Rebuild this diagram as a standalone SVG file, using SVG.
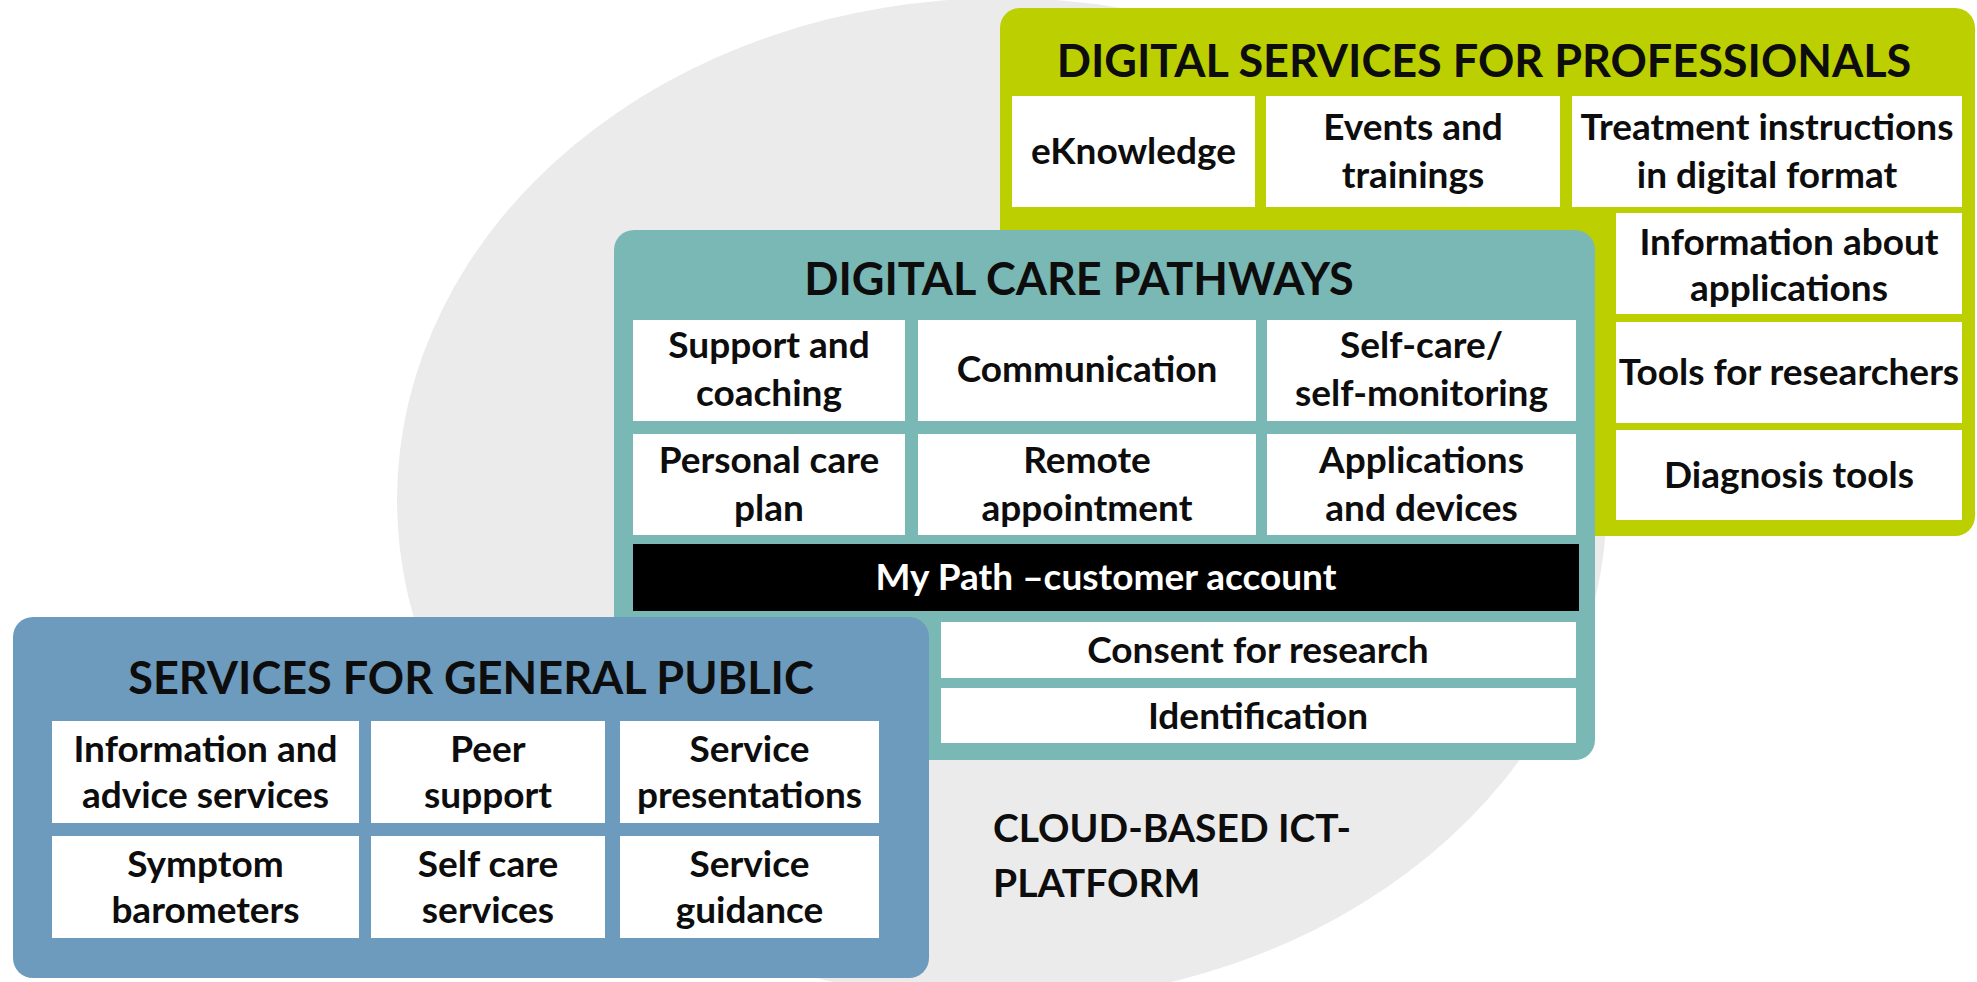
<svg xmlns="http://www.w3.org/2000/svg" width="1977" height="982" viewBox="0 0 1977 982">
<style>
.bg{fill:#ffffff}
.cloud{fill:#ebebeb}
.green{fill:#bccf00}
.teal{fill:#7ab8b5}
.blue{fill:#6c9bbe}
.cell{fill:#ffffff}
.bar{fill:#000000}
text{font-family:Lato,"Liberation Sans",sans-serif;font-weight:700;fill:#0d0d0d;text-anchor:middle}
.h{font-size:45px}
.c{font-size:37px}
.w{fill:#ffffff}
.l{text-anchor:start;font-size:39px}
</style>
<rect class="bg" x="0" y="0" width="1977" height="982"/>
<g id="cloud-platform">
<ellipse class="cloud" cx="1002" cy="500" rx="605" ry="502"/>
<text class="l" x="993" y="842">CLOUD-BASED ICT-</text>
<text class="l" x="993" y="897">PLATFORM</text>
</g>
<g id="professionals">
<rect class="green" x="1000" y="8" width="975" height="528" rx="20"/>
<text class="h" x="1484" y="77">DIGITAL SERVICES FOR PROFESSIONALS</text>
<g id="eknowledge"><rect class="cell" x="1012" y="96" width="243" height="111"/><text class="c" x="1133.5" y="164">eKnowledge</text></g>
<g id="events"><rect class="cell" x="1266" y="96" width="294" height="111"/><text class="c" x="1413" y="140">Events and</text><text class="c" x="1413" y="188">trainings</text></g>
<g id="treatment"><rect class="cell" x="1572" y="96" width="390" height="111"/><text class="c" x="1767" y="140">Treatment instructions</text><text class="c" x="1767" y="188">in digital format</text></g>
<g id="info-apps"><rect class="cell" x="1616" y="213" width="346" height="101"/><text class="c" x="1789" y="255">Information about</text><text class="c" x="1789" y="301">applications</text></g>
<g id="tools-researchers"><rect class="cell" x="1616" y="322" width="346" height="101"/><text class="c" x="1789" y="385">Tools for researchers</text></g>
<g id="diagnosis"><rect class="cell" x="1616" y="430" width="346" height="90"/><text class="c" x="1789" y="488">Diagnosis tools</text></g>
</g>
<g id="care-pathways">
<rect class="teal" x="614" y="230" width="981" height="530" rx="20"/>
<text class="h" x="1079" y="295">DIGITAL CARE PATHWAYS</text>
<g id="support"><rect class="cell" x="633" y="320" width="272" height="101"/><text class="c" x="769" y="358">Support and</text><text class="c" x="769" y="406">coaching</text></g>
<g id="communication"><rect class="cell" x="918" y="320" width="338" height="101"/><text class="c" x="1087" y="382">Communication</text></g>
<g id="self-care"><rect class="cell" x="1267" y="320" width="309" height="101"/><text class="c" x="1421.5" y="358">Self-care/</text><text class="c" x="1421.5" y="406">self-monitoring</text></g>
<g id="personal-plan"><rect class="cell" x="633" y="434" width="272" height="101"/><text class="c" x="769" y="473">Personal care</text><text class="c" x="769" y="521">plan</text></g>
<g id="remote"><rect class="cell" x="918" y="434" width="338" height="101"/><text class="c" x="1087" y="473">Remote</text><text class="c" x="1087" y="521">appointment</text></g>
<g id="apps-devices"><rect class="cell" x="1267" y="434" width="309" height="101"/><text class="c" x="1421.5" y="473">Applications</text><text class="c" x="1421.5" y="521">and devices</text></g>
<g id="my-path"><rect class="bar" x="633" y="544" width="946" height="67"/><text class="c w" x="1106" y="590">My Path –customer account</text></g>
<g id="consent"><rect class="cell" x="941" y="622" width="635" height="56"/><text class="c" x="1258" y="663">Consent for research</text></g>
<g id="identification"><rect class="cell" x="941" y="688" width="635" height="55"/><text class="c" x="1258" y="729">Identification</text></g>
</g>
<g id="general-public">
<rect class="blue" x="13" y="617" width="916" height="361" rx="20"/>
<text class="h" x="471" y="694">SERVICES FOR GENERAL PUBLIC</text>
<g id="info-advice"><rect class="cell" x="52" y="721" width="307" height="102"/><text class="c" x="205.5" y="762">Information and</text><text class="c" x="205.5" y="808">advice services</text></g>
<g id="peer"><rect class="cell" x="371" y="721" width="234" height="102"/><text class="c" x="488" y="762">Peer</text><text class="c" x="488" y="808">support</text></g>
<g id="presentations"><rect class="cell" x="620" y="721" width="259" height="102"/><text class="c" x="749.5" y="762">Service</text><text class="c" x="749.5" y="808">presentations</text></g>
<g id="symptom"><rect class="cell" x="52" y="836" width="307" height="102"/><text class="c" x="205.5" y="877">Symptom</text><text class="c" x="205.5" y="923">barometers</text></g>
<g id="self-care-services"><rect class="cell" x="371" y="836" width="234" height="102"/><text class="c" x="488" y="877">Self care</text><text class="c" x="488" y="923">services</text></g>
<g id="guidance"><rect class="cell" x="620" y="836" width="259" height="102"/><text class="c" x="749.5" y="877">Service</text><text class="c" x="749.5" y="923">guidance</text></g>
</g>
<g id="connectors"/>
</svg>
